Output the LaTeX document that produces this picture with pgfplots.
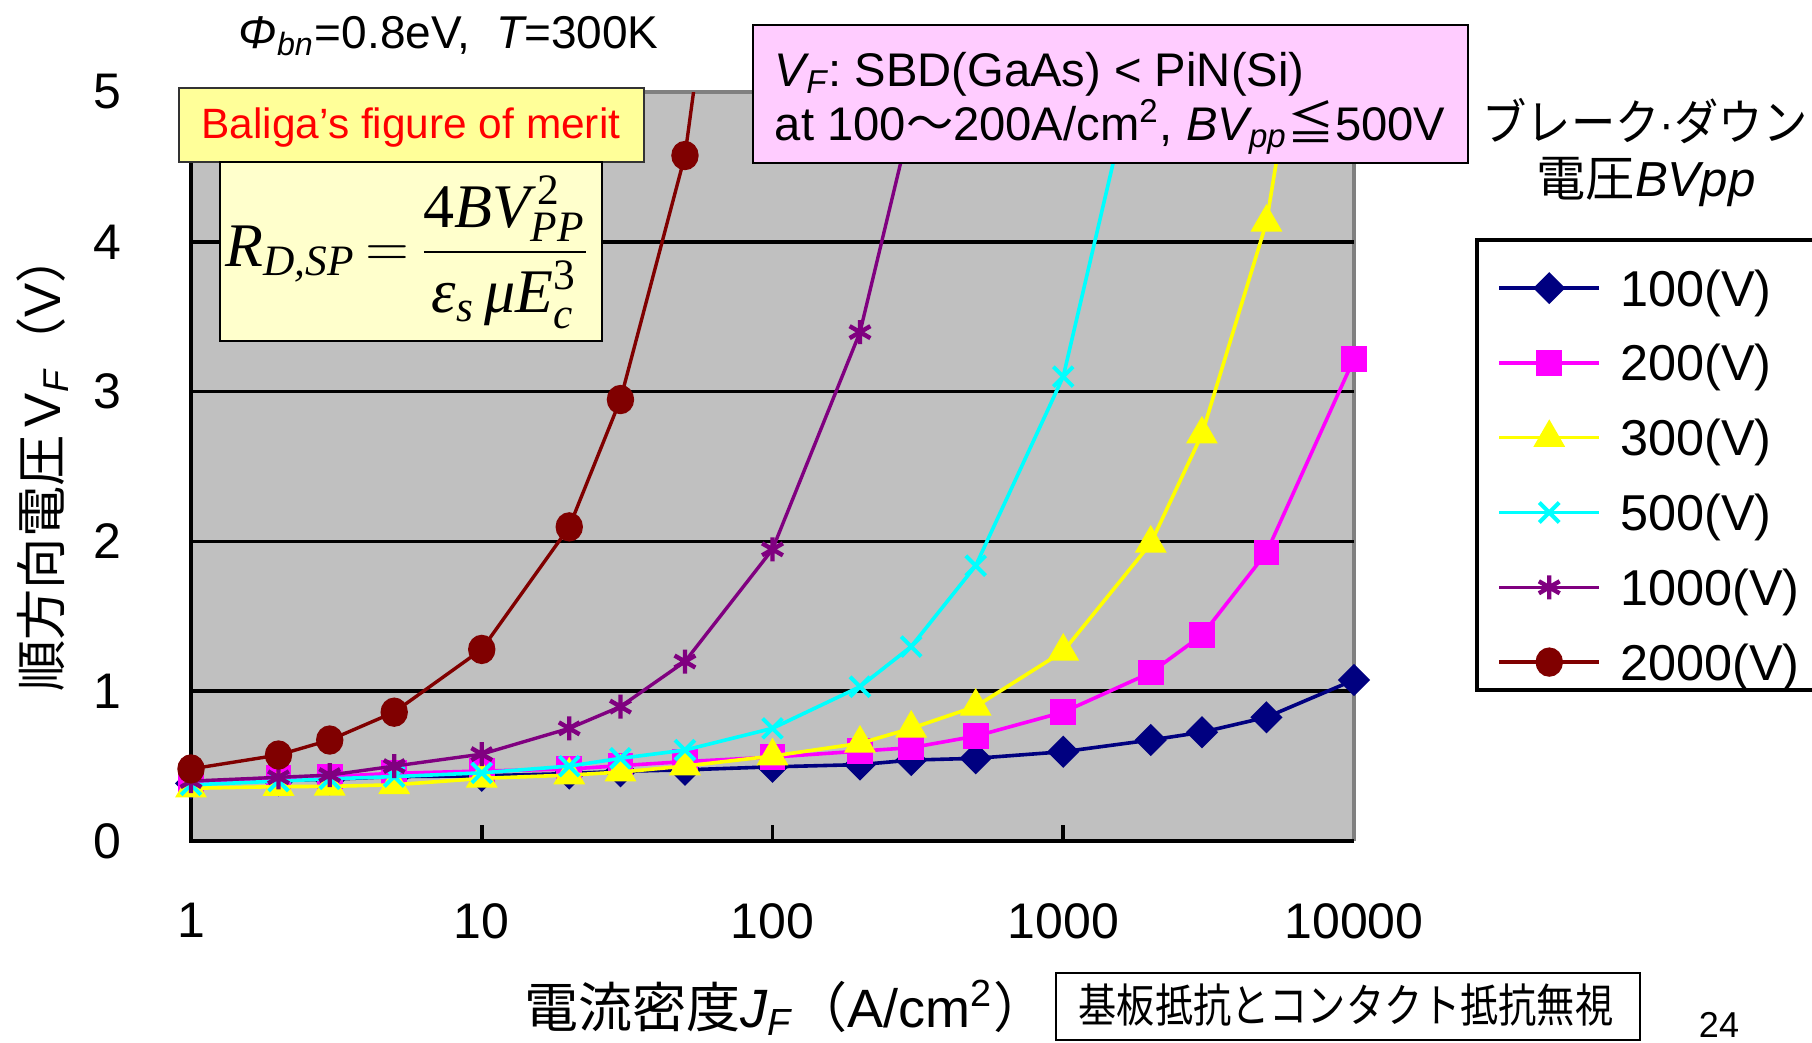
\documentclass[border=0pt]{standalone}
\usepackage{pgfplots}
\pgfplotsset{compat=1.18}
\usepackage{fontspec}
\usepackage{amsmath}
\setmainfont{Liberation Sans}
\newfontfamily\cjk{Noto Sans CJK JP}
\newfontfamily\tnr{Liberation Serif}
\definecolor{navyc}{HTML}{000080}
\definecolor{magc}{HTML}{FF00FF}
\definecolor{yelc}{HTML}{FFFF00}
\definecolor{cyac}{HTML}{00FFFF}
\definecolor{purc}{HTML}{800080}
\definecolor{redc}{HTML}{800000}
\definecolor{plotgray}{HTML}{C0C0C0}
\definecolor{bordergray}{HTML}{808080}
\definecolor{boxyellow}{HTML}{FFFF99}
\definecolor{boxlight}{HTML}{FFFFCC}
\definecolor{boxpink}{HTML}{FFCCFF}
\begin{document}
\begin{tikzpicture}[x=0.25pt,y=0.25pt]
\useasboundingbox (0,0) rectangle (1812,1042);
% legend frame
\draw[line width=0.9pt, fill=white] (1477,{1042-240}) rectangle (1840,{1042-690});
\begin{axis}[
  at={(47.75pt,50.25pt)}, anchor=south west, scale only axis,
  width=290.75pt, height=187.25pt,
  xmode=log, xmin=1, xmax=10000, ymin=0, ymax=5,
  xtick={1,10,100,1000,10000}, xticklabels={1,10,100,1000,10000},
  ytick={0,1,2,3,4,5}, yticklabels={0,1,2,3,4,5},
  xminorticks=false, yminorticks=false,
  tick pos=left, tick align=inside, major tick length=4pt,
  x tick style={black, line width=0.9pt},
  y tick style={draw=none},
  axis line style={draw=none},
  axis background/.style={fill=plotgray},
  clip mode=individual,
  tick label style={font=\fontsize{12.5}{14}\selectfont},
  xticklabel style={inner sep=0pt, anchor=north, yshift=-15.4pt},
  yticklabel style={inner sep=0pt, anchor=east, xshift=-17.1pt},
  legend cell align=left,
  legend style={at={(1.1227,0.7633)}, anchor=north west, draw=none, fill=none,
    inner sep=0pt, row sep=9.7pt, column sep=4.8pt,
    font=\fontsize{12.6}{14}\selectfont,
    nodes={inner sep=0pt, text height=9pt, text depth=0pt},
    cells={anchor=west}},
  legend image code/.code={\draw[mark repeat=2,mark phase=2,#1] plot coordinates {(0pt,0pt) (12.5pt,0pt) (25pt,0pt)};},
]
% frame and grid
\draw[bordergray, line width=0.9pt] (axis cs:1,5) -- (axis cs:10000,5) -- (axis cs:10000,0);
\draw[black, line width=0.9pt] (axis cs:1,1) -- (axis cs:10000,1);
\draw[black, line width=0.9pt] (axis cs:1,2) -- (axis cs:10000,2);
\draw[black, line width=0.9pt] (axis cs:1,3) -- (axis cs:10000,3);
\draw[black, line width=0.9pt] (axis cs:1,4) -- (axis cs:10000,4);
\draw[black, line width=0.9pt] (axis cs:1,5) -- (axis cs:1,0) -- (axis cs:10000,0);

\addplot[color=navyc, line width=0.9pt, mark=square*, mark size=2.39pt, mark options={rotate=45, fill=navyc}] coordinates {
(1,0.385) (2,0.405) (3,0.412) (5,0.43) (10,0.435) (20,0.45) (30,0.465) (50,0.475)
(100,0.495) (200,0.51) (300,0.54) (500,0.552) (1000,0.596) (2000,0.674) (3000,0.726)
(5000,0.826) (10000,1.075)};
\addlegendentry{\makebox[54pt][l]{100(V)}}

\addplot[color=magc, line width=0.9pt, mark=square*, mark size=2.75pt, mark options={fill=magc}] coordinates {
(1,0.39) (2,0.425) (3,0.43) (5,0.452) (10,0.467) (20,0.48) (30,0.503) (50,0.53)
(100,0.56) (200,0.60) (300,0.623) (500,0.70) (1000,0.86) (2000,1.124) (3000,1.374)
(5000,1.925) (10000,3.219)};
\addlegendentry{\makebox[54pt][l]{200(V)}}

\addplot[color=yelc, line width=0.9pt, mark=triangle*, mark size=3.7pt, mark options={fill=yelc}] coordinates {
(1,0.352) (2,0.363) (3,0.365) (5,0.375) (10,0.418) (20,0.44) (30,0.46) (50,0.50)
(100,0.567) (200,0.652) (300,0.752) (500,0.898) (1000,1.266) (2000,1.987) (3000,2.715)
(5000,4.13) (10000,7.7)};
\addlegendentry{\makebox[54pt][l]{300(V)}}

\addplot[color=cyac, line width=0.9pt, mark=x, mark size=3.5pt, mark options={line width=1pt}] coordinates {
(1,0.375) (2,0.40) (3,0.415) (5,0.43) (10,0.455) (20,0.50) (30,0.552) (50,0.607)
(100,0.752) (200,1.03) (300,1.298) (500,1.838) (1000,3.10) (2000,5.6)};
\addlegendentry{\makebox[54pt][l]{500(V)}}

\addplot[color=purc, line width=0.85pt, mark=asterisk, mark size=3pt, mark options={line width=1.1pt}] coordinates {
(1,0.40) (2,0.425) (3,0.44) (5,0.50) (10,0.58) (20,0.752) (30,0.897) (50,1.198)
(100,1.947) (200,3.397) (300,4.82) (500,7.7)};
\addlegendentry{\makebox[54pt][l]{1000(V)}}

\addplot[color=redc, line width=0.85pt, mark=*, mark size=3pt, mark options={fill=redc, yscale=1.08}] coordinates {
(1,0.481) (2,0.574) (3,0.674) (5,0.86) (10,1.279) (20,2.097) (30,2.947) (50,4.576) (100,8.9)};
\addlegendentry{\makebox[54pt][l]{2000(V)}}
\end{axis}

% title
\node[anchor=base, inner sep=0pt] at (448.5,{1042-48.3}) {\fontsize{11.5}{13}\selectfont {\itshape Φ}\textsubscript{\itshape bn}=0.8eV,\ \ {\itshape T}=300K};

% Baliga box
\draw[line width=0.6pt, draw=black!80, fill=boxyellow] (179,{1042-88}) rectangle (644,{1042-162});
\node[anchor=base, inner sep=0pt, text=red] at (411,{1042-138.3}) {\fontsize{10.6}{12}\selectfont Baliga’s figure of merit};
% formula box
\draw[line width=0.6pt, draw=black, fill=boxlight] (220,{1042-162}) rectangle (602,{1042-341});
\node[inner sep=0pt] at (408,{1042-252}) {\tnr\fontsize{15.5}{18}\selectfont $\textit{R}_{\textit{D,SP}}\mkern-2mu=\mkern-2mu\dfrac{\text{4}\textit{BV}_{\textit{PP}}^{\,\text{2}}}{\textit{ε}_{\textit{s}}\,\textit{μE}_{\textit{c}}^{\text{3}}}$};

% pink box
\draw[line width=0.6pt, draw=black, fill=boxpink] (753,{1042-25}) rectangle (1468,{1042-162.7});
\node[anchor=base west, inner sep=0pt] at (774,{1042-86}) {\fontsize{11.8}{14}\selectfont {\itshape V}\textsubscript{\itshape F}:\ SBD(GaAs) < PiN(Si)};
\node[anchor=base west, inner sep=0pt] at (774,{1042-140}) {\fontsize{11.8}{14}\selectfont at 100{\cjk ～}200A/cm\textsuperscript{2}, {\itshape BV}\textsubscript{\itshape pp}{\cjk ≦}500V};

% legend title
\node[inner sep=0pt] at (1645,{1042-121}) {\scalebox{0.9}[1]{\fontsize{12.3}{14}\selectfont{\cjk ブレーク}·{\cjk ダウン}}};
\node[inner sep=0pt] at (1646,{1042-182}) {\fontsize{12.3}{14}\selectfont{\cjk 電圧}{\itshape BVpp}};

% axis labels
\node[inner sep=0pt] at (786,{1042-1008}) {\fontsize{13.5}{15}\selectfont{\cjk 電流密度}{\itshape J}\textsubscript{\itshape F}{\cjk （}A/cm\textsuperscript{2}{\cjk ）}};
\node[inner sep=0pt, rotate=90] at (43,{1042-462}) {\fontsize{12.8}{15}\selectfont{\cjk 順方向電圧}\,V\textsubscript{\itshape F}{\cjk （}V{\cjk ）}};

% bottom note
\draw[line width=0.6pt, draw=black, fill=white] (1056,{1042-973}) rectangle (1640,{1042-1040});
\node[inner sep=0pt] at (1346,{1042-1005}) {\scalebox{0.83}[1]{\fontsize{11.5}{13}\selectfont\cjk 基板抵抗とコンタクト抵抗無視}};
\node[inner sep=0pt] at (1719,{1042-1024.5}) {\fontsize{9}{10}\selectfont 24};
\end{tikzpicture}
\end{document}
